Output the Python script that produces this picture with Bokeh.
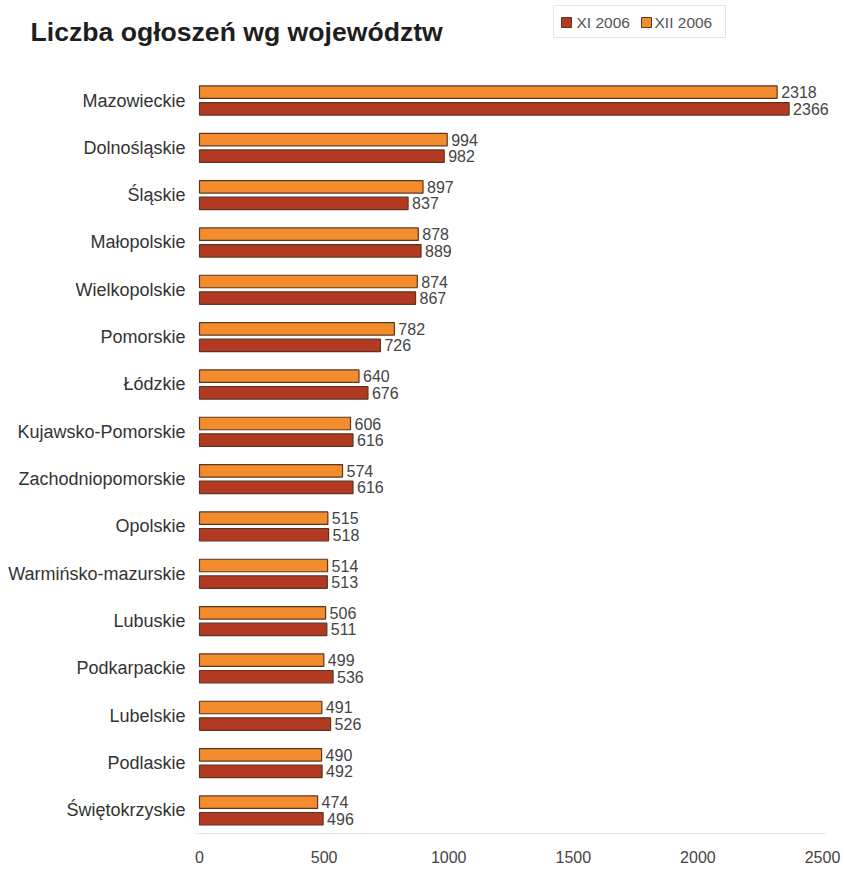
from bokeh.plotting import figure
from bokeh.models import ColumnDataSource, Range1d, FixedTicker, LabelSet
from bokeh.core.properties import value
from bokeh.embed import file_html
from bokeh.resources import INLINE

# ---- data ----
regions = ["Mazowieckie", "Dolnośląskie", "Śląskie", "Małopolskie", "Wielkopolskie",
           "Pomorskie", "Łódzkie", "Kujawsko-Pomorskie", "Zachodniopomorskie", "Opolskie",
           "Warmińsko-mazurskie", "Lubuskie", "Podkarpackie", "Lubelskie", "Podlaskie",
           "Świętokrzyskie"]
xii_2006 = [2318, 994, 897, 878, 874, 782, 640, 606, 574, 515, 514, 506, 499, 491, 490, 474]
xi_2006 = [2366, 982, 837, 889, 867, 726, 676, 616, 616, 518, 513, 511, 536, 526, 492, 496]
x_ticks = [0, 500, 1000, 1500, 2000, 2500]
title_text = "Liczba ogłoszeń wg województw"
series_names = ["XI 2006", "XII 2006"]

# ---- layout constants (pixels) ----
W, H = 842, 880
FRAME_BOTTOM = 834
X0, X_END = 199, 822          # pixel of x=0 and x=2500
PXU_X = (X_END - X0) / 2500
N = len(regions)
PXU_Y = 47.33                 # pixels per category band
Y0 = 100 - PXU_Y / 2          # top of first band


def dx(px):
    return (px - X0) / PXU_X


def dy(py):
    return (py - Y0) / PXU_Y


OFF = 8.3 / PXU_Y
BAR_H = 12.5 / PXU_Y

FONT = value("Liberation Sans")
ORANGE = "#F28C2C"
RED = "#B23A22"
EDGE = "#5e3620"

centers = [i + 0.5 for i in range(N)]
src_xii = ColumnDataSource(dict(y=[c - OFF for c in centers], v=xii_2006,
                                t=[str(v) for v in xii_2006]))
src_xi = ColumnDataSource(dict(y=[c + OFF for c in centers], v=xi_2006,
                               t=[str(v) for v in xi_2006]))

p = figure(width=W, height=H,
           x_range=Range1d(dx(0), dx(W)), y_range=Range1d(dy(FRAME_BOTTOM), dy(0)),
           output_backend="svg", toolbar_location=None,
           min_border_left=0, min_border_right=0, min_border_top=0,
           min_border_bottom=H - FRAME_BOTTOM)
p.outline_line_color = None
p.xgrid.visible = False
p.ygrid.visible = False
p.yaxis.visible = False
p.background_fill_color = "white"
p.border_fill_color = "white"

# faint baseline
p.segment(x0=[dx(195)], y0=[dy(833)], x1=[dx(826)], y1=[dy(833)],
          line_color="#e6e6e6", line_width=1)

r_xii = p.hbar(y="y", left=0, right="v", height=BAR_H, source=src_xii,
               fill_color=ORANGE, line_color=EDGE, line_width=1.2)
r_xi = p.hbar(y="y", left=0, right="v", height=BAR_H, source=src_xi,
              fill_color=RED, line_color=EDGE, line_width=1.2)

for s in (src_xii, src_xi):
    p.add_layout(LabelSet(x="v", y="y", text="t", source=s, x_offset=4,
                          text_baseline="middle", text_font=FONT,
                          text_font_size="16px", text_color="#444444"))

# category labels
cat_src = ColumnDataSource(dict(x=[dx(185)] * N, y=centers, t=regions))
p.text(x="x", y="y", text="t", source=cat_src, text_align="right",
       text_baseline="middle", text_font=FONT, text_font_size="18px",
       text_color="#333333")

# x axis
p.xaxis.ticker = FixedTicker(ticks=x_ticks)
p.xaxis.axis_line_color = None
p.xaxis.major_tick_line_color = None
p.xaxis.minor_tick_line_color = None
p.xaxis.major_tick_out = 0
p.xaxis.major_tick_in = 0
p.xaxis.major_label_standoff = 16
p.xaxis.major_label_text_font = "Liberation Sans"
p.xaxis.major_label_text_font_size = "16px"
p.xaxis.major_label_text_color = "#444444"

# title
p.text(x=[dx(30)], y=[dy(31)], text=[title_text], text_font=FONT,
       text_font_style="bold", text_font_size="26.6px", text_baseline="middle",
       text_color="#1e1e1e")

# legend (drawn manually)
p.quad(left=[dx(553)], right=[dx(725)], top=[dy(5)], bottom=[dy(37)],
       fill_color=None, line_color="#e4e4e4", line_width=1)
p.scatter(x=[dx(566), dx(646)], y=[dy(22), dy(22)], marker="square", size=10,
          fill_color=[RED, ORANGE], line_color=EDGE, line_width=1)
p.text(x=[dx(576), dx(654)], y=[dy(22), dy(22)], text=series_names,
       text_baseline="middle", text_font=FONT, text_font_size="15.5px",
       text_color="#555555")

open("out.html", "w").write(file_html(p, INLINE))
